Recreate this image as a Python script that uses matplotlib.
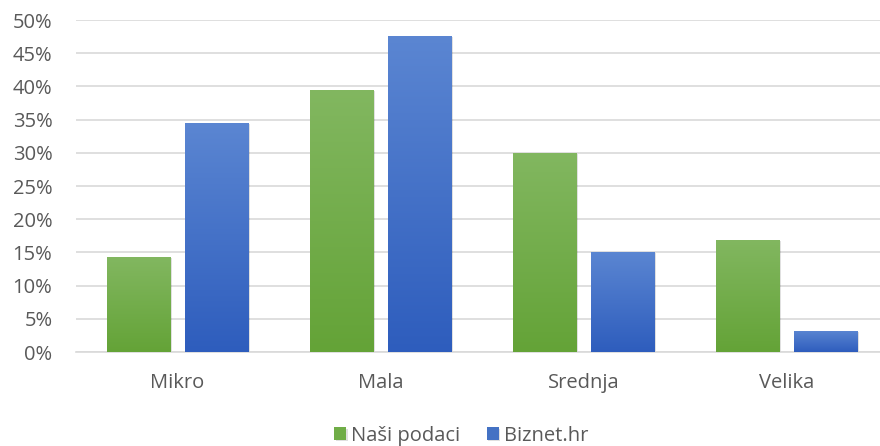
import numpy as np
import matplotlib.pyplot as plt
from matplotlib.colors import LinearSegmentedColormap
from matplotlib.ticker import PercentFormatter
import matplotlib.patheffects as pe

# %% Data
categories = ['Mikro', 'Mala', 'Srednja', 'Velika']
nasi_podaci = [14.3, 39.5, 30.0, 16.9]
biznet_hr = [34.5, 47.6, 15.1, 3.2]
series_names = ['Naši podaci', 'Biznet.hr']

# %% Styles
plt.rcParams['font.family'] = ['Open Sans', 'DejaVu Sans']
text_col = '#595959'
green_cmap = LinearSegmentedColormap.from_list('g', ['#64a337', '#82b760'])
blue_cmap = LinearSegmentedColormap.from_list('b', ['#2e5dbd', '#5b86d2'])
solid = ['#70ad47', '#4472c4']
fsize = 14.5

fig = plt.figure(figsize=(8.8, 4.46), dpi=100)
ax = fig.add_axes([76 / 880, 1 - 352 / 446, 812 / 880, 332 / 446])

x = np.arange(len(categories))
w = 0.315
gap = 0.069
bars_g = ax.bar(x - (w + gap) / 2, nasi_podaci, w, color=solid[0], zorder=2,
                label=series_names[0])
bars_b = ax.bar(x + (w + gap) / 2, biznet_hr, w, color=solid[1], zorder=2,
                label=series_names[1])

# gradient fill + soft shadow for every bar
grad = np.linspace(0, 1, 256).reshape(-1, 1)
for bars, cmap in [(bars_g, green_cmap), (bars_b, blue_cmap)]:
    for b in bars:
        b.set_path_effects([pe.SimplePatchShadow(offset=(1, -1), shadow_rgbFace='#000000',
                                                 alpha=0.12), pe.Normal()])
        bx, by, bw, bh = b.get_x(), b.get_y(), b.get_width(), b.get_height()
        im = ax.imshow(grad, extent=[bx, bx + bw, by, by + bh], origin='lower',
                       aspect='auto', cmap=cmap, zorder=3, interpolation='bilinear')
        im.set_clip_path(b)

ax.set_xlim(-0.5, len(categories) - 0.5)
ax.set_ylim(0, 50)

ax.set_yticks(np.arange(0, 51, 5))
ax.yaxis.set_major_formatter(PercentFormatter(decimals=0))
ax.set_xticks(x)
ax.set_xticklabels(categories)
ax.grid(True, axis='y', color='#d9d9d9', linewidth=1.2, zorder=0)
ax.set_axisbelow(True)
for s in ['top', 'right', 'left']:
    ax.spines[s].set_visible(False)
ax.spines['bottom'].set_color('#d9d9d9')
ax.spines['bottom'].set_linewidth(1.2)
ax.tick_params(axis='both', length=0, colors=text_col, labelsize=fsize)
ax.tick_params(axis='y', pad=17)
ax.tick_params(axis='x', pad=15)

leg = fig.legend(handles=[bars_g, bars_b], labels=series_names, loc='lower center',
                 bbox_to_anchor=(0.524, -0.04), ncol=2, frameon=False,
                 fontsize=fsize, handlelength=0.6, handleheight=0.6,
                 handletextpad=0.25, columnspacing=1.3)
for t in leg.get_texts():
    t.set_color(text_col)

fig.savefig('out.png', dpi=100)
